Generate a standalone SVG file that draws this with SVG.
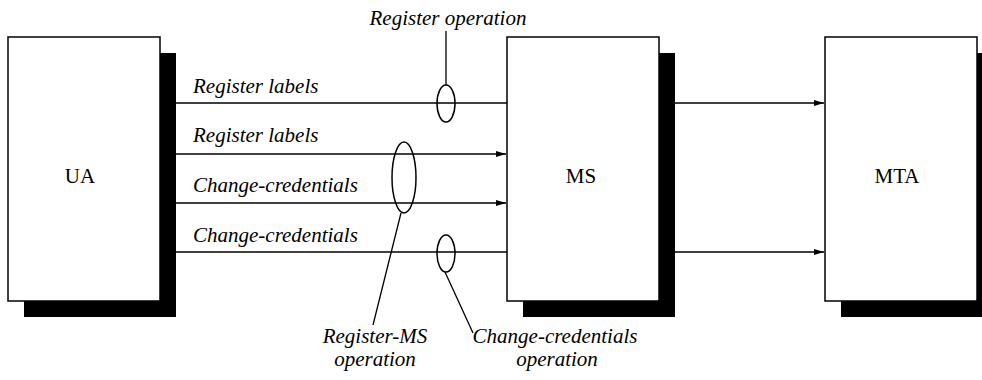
<svg xmlns="http://www.w3.org/2000/svg" width="982" height="380" viewBox="0 0 982 380">
<style>
.box{fill:#fff;stroke:#000;stroke-width:1.5}
.sh{fill:#000}
.nl{font-family:"Liberation Serif","Times New Roman","DejaVu Serif",serif;font-size:21px;text-anchor:middle;fill:#000}
.lb{font-family:"Liberation Serif","Times New Roman","DejaVu Serif",serif;font-size:21px;font-style:italic;fill:#000}
.ln{stroke:#000;stroke-width:1.3;fill:none}
.el{stroke:#000;stroke-width:1.5;fill:none}
</style>
<defs>
<marker id="ah" viewBox="0 0 10 6" refX="10" refY="3" markerWidth="10" markerHeight="6" markerUnits="userSpaceOnUse" orient="auto">
<path d="M0,0 L10,3 L0,6 Z" fill="#000"/>
</marker>
</defs>
<rect width="982" height="380" fill="#fff"/>
<g id="UA">
<rect class="sh" x="24" y="53" width="152" height="264"/>
<rect class="box" x="8" y="37" width="152" height="264"/>
<text class="nl" x="80" y="183">UA</text>
</g>
<g id="MS">
<rect class="sh" x="523" y="53" width="152" height="264"/>
<rect class="box" x="507" y="37" width="152" height="264"/>
<text class="nl" x="581" y="183">MS</text>
</g>
<g id="MTA">
<rect class="sh" x="841" y="53" width="152" height="264"/>
<rect class="box" x="825" y="37" width="152" height="264"/>
<text class="nl" x="897" y="183">MTA</text>
</g>
<g id="connectors">
<line class="ln" x1="176" y1="103" x2="507" y2="103"/>
<line class="ln" x1="176" y1="154" x2="506" y2="154" marker-end="url(#ah)"/>
<line class="ln" x1="176" y1="203" x2="506" y2="203" marker-end="url(#ah)"/>
<line class="ln" x1="176" y1="252" x2="507" y2="252"/>
<line class="ln" x1="675" y1="103" x2="824" y2="103" marker-end="url(#ah)"/>
<line class="ln" x1="675" y1="252" x2="824" y2="252" marker-end="url(#ah)"/>
<text class="lb" x="193" y="93">Register labels</text>
<text class="lb" x="193" y="142">Register labels</text>
<text class="lb" x="193" y="192">Change-credentials</text>
<text class="lb" x="193" y="242">Change-credentials</text>
</g>
<g id="annotations">
<ellipse class="el" cx="446" cy="103.5" rx="9" ry="18.5"/>
<line class="ln" x1="446" y1="85" x2="446" y2="31"/>
<text class="lb" x="448" y="25" text-anchor="middle">Register operation</text>
<ellipse class="el" cx="404" cy="177.5" rx="12" ry="35.5"/>
<line class="ln" x1="401" y1="213" x2="373" y2="325"/>
<text class="lb" x="375" y="343" text-anchor="middle">Register-MS</text>
<text class="lb" x="375" y="366" text-anchor="middle">operation</text>
<ellipse class="el" cx="446" cy="253.5" rx="9" ry="18.5"/>
<line class="ln" x1="445" y1="272" x2="473" y2="333"/>
<text class="lb" x="555" y="343" text-anchor="middle">Change-credentials</text>
<text class="lb" x="557" y="366" text-anchor="middle">operation</text>
</g>
</svg>
